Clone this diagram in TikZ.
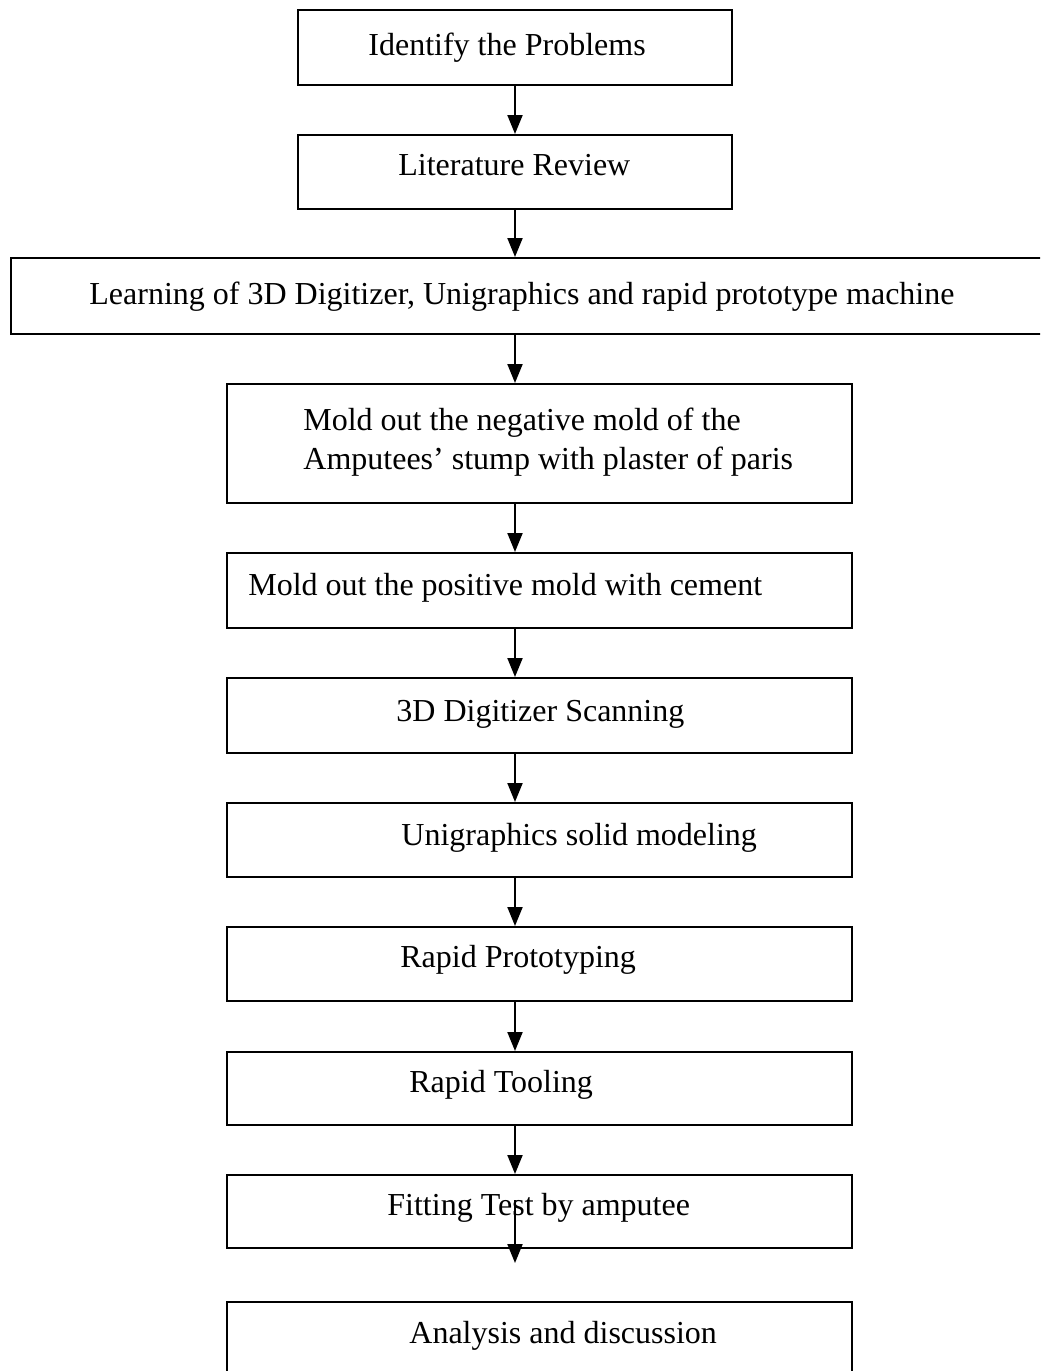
\documentclass[tikz,border=0pt]{standalone}
\usepackage{fontspec}
\setmainfont{Liberation Serif}
\usetikzlibrary{arrows.meta}
\begin{document}
\begin{tikzpicture}[x=0.5pt,y=-0.5pt,
  box/.style={draw=black, line width=1pt, inner sep=0pt, minimum width=#1},
  box/.default=312.5pt,
  txt/.style={anchor=base west, inner sep=0pt, font=\fontsize{16pt}{19pt}\selectfont},
  arr/.style={line width=1pt, -{Triangle[width=7.5pt,length=9.5pt]}}]
\useasboundingbox (0,0) rectangle (1040,1371);
\clip (0,0) rectangle (1040,1371);
% boxes
\node[box=217pt, minimum height=37.5pt] (b1) at (515,47.5) {};
\node[box=217pt, minimum height=37pt] (b2) at (515,172) {};
\node[box=524.5pt, minimum height=38pt] (b3) at (535.5,296) {};
\node[box, minimum height=59.5pt] (b4) at (539.5,443.5) {};
\node[box, minimum height=37.5pt] (b5) at (539.5,590.5) {};
\node[box, minimum height=37.5pt] (b6) at (539.5,715.5) {};
\node[box, minimum height=37pt] (b7) at (539.5,840) {};
\node[box, minimum height=37pt] (b8) at (539.5,964) {};
\node[box, minimum height=36.5pt] (b9) at (539.5,1088.5) {};
\node[box, minimum height=36.5pt] (b10) at (539.5,1211.5) {};
\node[box, minimum height=44pt] (b11) at (539.5,1346) {};
% texts
\node[txt] (t1) at (368,55) {Identify the Problems};
\node[txt] (t2) at (398,175) {Literature Review};
\node[txt] (t3) at (89,304) {Learning of 3D Digitizer, Unigraphics and rapid prototype machine};
\node[txt] (t4a) at (303,430) {Mold out the negative mold of the};
\node[txt] (t4b) at (303,469) {Amputees’ stump with plaster of paris};
\node[txt] (t5) at (248,595) {Mold out the positive mold with cement};
\node[txt] (t6) at (396,721) {3D Digitizer Scanning};
\node[txt] (t7) at (401,845) {Unigraphics solid modeling};
\node[txt] (t8) at (400,967) {Rapid Prototyping};
\node[txt] (t9) at (409,1092) {Rapid Tooling};
\node[txt] (t10) at (387,1215) {Fitting Test by amputee};
\node[txt] (t11) at (409,1343) {Analysis and discussion};
% connectors
\coordinate (ax) at (515,0);
\coordinate (fs) at (515,1200);
\coordinate (fe) at (515,1263);
\draw[arr] (b1.south -| ax) -- (b2.north -| ax);
\draw[arr] (b2.south -| ax) -- (b3.north -| ax);
\draw[arr] (b3.south -| ax) -- (b4.north -| ax);
\draw[arr] (b4.south -| ax) -- (b5.north -| ax);
\draw[arr] (b5.south -| ax) -- (b6.north -| ax);
\draw[arr] (b6.south -| ax) -- (b7.north -| ax);
\draw[arr] (b7.south -| ax) -- (b8.north -| ax);
\draw[arr] (b8.south -| ax) -- (b9.north -| ax);
\draw[arr] (b9.south -| ax) -- (b10.north -| ax);
\draw[arr] (fs) -- (fe);
\end{tikzpicture}
\end{document}
